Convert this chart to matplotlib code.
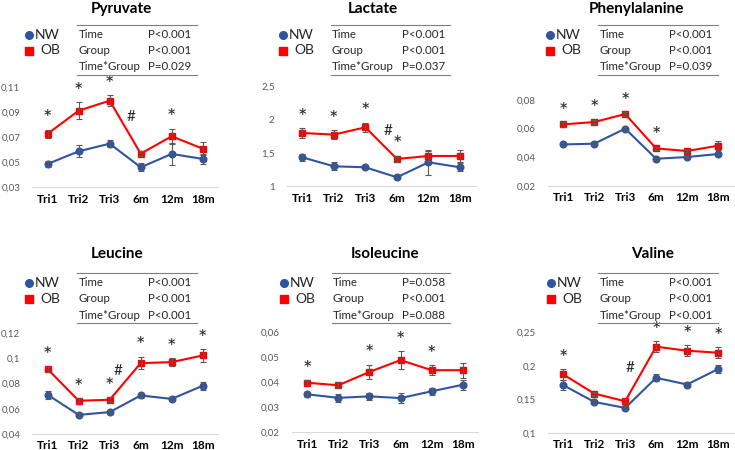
import matplotlib.pyplot as plt
import numpy as np

plt.rcParams['font.family'] = ['Lato', 'DejaVu Sans']

times = ['Tri1', 'Tri2', 'Tri3', '6m', '12m', '18m']
stat_terms = ['Time', 'Group', 'Time*Group']

# Pyruvate
pyr_nw = [0.0487, 0.0588, 0.0649, 0.0460, 0.0567, 0.0527]
pyr_nw_err = [0.0027, 0.0048, 0.0027, 0.0032, 0.0085, 0.0040]
pyr_ob = [0.0729, 0.0913, 0.0993, 0.0569, 0.0708, 0.0609]
pyr_ob_err = [0.0032, 0.0067, 0.0045, 0.0020, 0.0060, 0.0053]
pyr_p = ['P<0.001', 'P<0.001', 'P=0.029']
pyr_ticks = [0.03, 0.05, 0.07, 0.09, 0.11]
pyr_ticklabels = ['0,03', '0,05', '0,07', '0,09', '0,11']
pyr_stars = [0, 1, 2, 4]
pyr_hash = (2.7, 0.0863)

# Lactate
lac_nw = [1.435, 1.30, 1.285, 1.135, 1.36, 1.285]
lac_nw_err = [0.05, 0.06, 0.03, 0.03, 0.19, 0.06]
lac_ob = [1.80, 1.775, 1.885, 1.41, 1.455, 1.455]
lac_ob_err = [0.07, 0.07, 0.07, 0.05, 0.08, 0.09]
lac_p = ['P<0.001', 'P<0.001', 'P=0.037']
lac_ticks = [1, 1.5, 2, 2.5]
lac_ticklabels = ['1', '1,5', '2', '2,5']
lac_stars = [0, 1, 2, 3]
lac_hash = (2.72, 1.835)

# Phenylalanine
phe_nw = [0.0488, 0.0493, 0.0598, 0.0388, 0.0400, 0.0421]
phe_nw_err = [0.0010, 0.0012, 0.0015, 0.0008, 0.0008, 0.0010]
phe_ob = [0.0628, 0.0644, 0.0700, 0.0460, 0.0442, 0.0479]
phe_ob_err = [0.0015, 0.0015, 0.0012, 0.0012, 0.0010, 0.0030]
phe_p = ['P<0.001', 'P<0.001', 'P=0.039']
phe_ticks = [0.02, 0.04, 0.06, 0.08]
phe_ticklabels = ['0,02', '0,04', '0,06', '0,08']
phe_stars = [0, 1, 2, 3]
phe_hash = None

# Leucine
leu_nw = [0.0711, 0.0552, 0.0574, 0.0706, 0.0679, 0.0783]
leu_nw_err = [0.0030, 0.0015, 0.0015, 0.0020, 0.0015, 0.0030]
leu_ob = [0.0915, 0.0664, 0.0672, 0.0963, 0.0971, 0.1024]
leu_ob_err = [0.0020, 0.0020, 0.0020, 0.0050, 0.0030, 0.0050]
leu_p = ['P<0.001', 'P<0.001', 'P<0.001']
leu_ticks = [0.04, 0.06, 0.08, 0.10, 0.12]
leu_ticklabels = ['0,04', '0,06', '0,08', '0,1', '0,12']
leu_stars = [0, 1, 2, 3, 4, 5]
leu_hash = (2.28, 0.0902)

# Isoleucine
ile_nw = [0.0351, 0.0337, 0.0343, 0.0336, 0.0363, 0.0389]
ile_nw_err = [0.0010, 0.0015, 0.0015, 0.0020, 0.0015, 0.0020]
ile_ob = [0.0397, 0.0387, 0.0440, 0.0487, 0.0447, 0.0447]
ile_ob_err = [0.0010, 0.0012, 0.0028, 0.0035, 0.0020, 0.0030]
ile_p = ['P=0.058', 'P<0.001', 'P=0.088']
ile_ticks = [0.02, 0.03, 0.04, 0.05, 0.06]
ile_ticklabels = ['0,02', '0,03', '0,04', '0,05', '0,06']
ile_stars = [0, 2, 3, 4]
ile_hash = None

# Valine
val_nw = [0.171, 0.146, 0.137, 0.182, 0.172, 0.195]
val_nw_err = [0.007, 0.003, 0.003, 0.005, 0.004, 0.006]
val_ob = [0.187, 0.1585, 0.147, 0.2285, 0.2225, 0.2195]
val_ob_err = [0.008, 0.003, 0.003, 0.008, 0.008, 0.008]
val_p = ['P<0.001', 'P<0.001', 'P<0.001']
val_ticks = [0.10, 0.15, 0.20, 0.25]
val_ticklabels = ['0,1', '0,15', '0,2', '0,25']
val_stars = [0, 3, 4, 5]
val_hash = (2.15, 0.197)

panels = [
    ('Pyruvate', pyr_nw, pyr_nw_err, pyr_ob, pyr_ob_err, pyr_p, pyr_ticks, pyr_ticklabels, pyr_stars, pyr_hash),
    ('Lactate', lac_nw, lac_nw_err, lac_ob, lac_ob_err, lac_p, lac_ticks, lac_ticklabels, lac_stars, lac_hash),
    ('Phenylalanine', phe_nw, phe_nw_err, phe_ob, phe_ob_err, phe_p, phe_ticks, phe_ticklabels, phe_stars, phe_hash),
    ('Leucine', leu_nw, leu_nw_err, leu_ob, leu_ob_err, leu_p, leu_ticks, leu_ticklabels, leu_stars, leu_hash),
    ('Isoleucine', ile_nw, ile_nw_err, ile_ob, ile_ob_err, ile_p, ile_ticks, ile_ticklabels, ile_stars, ile_hash),
    ('Valine', val_nw, val_nw_err, val_ob, val_ob_err, val_p, val_ticks, val_ticklabels, val_stars, val_hash),
]

# layout in pixels: axes (left, right, top, bottom), title (x, y), table top y,
# table (left, right), p-value column x, legend marker x
W, H = 735, 450
layout = [
    dict(ax=(32.2, 218.2, 87.3, 187.3), title=(121.7, 9.3), top=25, table=(77.3, 196.7), col2=147.7, leg=29.3),
    dict(ax=(286.5, 475.8, 86.3, 186.3), title=(373, 9.3), top=25, table=(331, 450), col2=401.7, leg=283.3),
    dict(ax=(547.8, 733.5, 99.7, 185.7), title=(636.7, 9.3), top=25, table=(598.3, 717.7), col2=669.3, leg=550),
    dict(ax=(32.2, 218.2, 333.3, 434), title=(116.7, 253.5), top=273.3, table=(77.3, 196.7), col2=147.7, leg=29.3),
    dict(ax=(291.8, 478.2, 331.7, 432.3), title=(385, 253.5), top=273.3, table=(331.7, 450), col2=401.7, leg=284.3),
    dict(ax=(547.8, 733.5, 332.3, 432.7), title=(653, 253.5), top=273.3, table=(598.3, 717.7), col2=669.3, leg=551),
]

blue = '#2F55A0'
red = '#FF0000'
err_color = '#595959'
text_color = '#262626'

fig = plt.figure(figsize=(W / 100, H / 100), dpi=100)

x = np.arange(len(times))
for (name, nw, nw_err, ob, ob_err, pvals, ticks, ticklabels, stars, hsh), lay in zip(panels, layout):
    l, r, t, b = lay['ax']
    ax = fig.add_axes([l / W, 1 - b / H, (r - l) / W, (b - t) / H])
    ax.plot(x, nw, color=blue, lw=1.5, marker='o', ms=4.8, zorder=2)
    ax.plot(x, ob, color=red, lw=1.5, marker='s', ms=4.8, zorder=3)
    ax.errorbar(x, nw, yerr=nw_err, fmt='none', ecolor=err_color, elinewidth=0.8, capsize=2, capthick=0.8, zorder=4)
    ax.errorbar(x, ob, yerr=ob_err, fmt='none', ecolor=err_color, elinewidth=0.8, capsize=2, capthick=0.8, zorder=5)

    # significance marks sit just above the OB error bar
    ob_top = np.array(ob) + np.array(ob_err)
    for i in stars:
        ax.annotate('*', (x[i], ob_top[i]), xytext=(0, 7.5), textcoords='offset points',
                    ha='center', va='center', fontsize=16, color=text_color)
    if hsh is not None:
        ax.text(hsh[0], hsh[1], '#', ha='center', va='center', fontsize=11, color=text_color)

    ax.set_xlim(-0.5, len(times) - 0.5)
    ax.set_ylim(ticks[0], ticks[-1])
    ax.set_yticks(ticks)
    ax.set_yticklabels(ticklabels)
    ax.set_xticks(x)
    ax.set_xticklabels(times, fontweight='bold')
    ax.tick_params(axis='y', length=0, pad=8.5, labelsize=7, labelcolor='#595959')
    ax.tick_params(axis='x', length=0, pad=4.5, labelsize=8.5, labelcolor='black')
    for side in ['left', 'right', 'top']:
        ax.spines[side].set_visible(False)
    ax.spines['bottom'].set_color('#D9D9D9')
    ax.spines['bottom'].set_linewidth(0.8)
    ax.patch.set_visible(False)

# overlay in pixel coordinates for titles, legends and p-value tables
ov = fig.add_axes([0, 0, 1, 1])
ov.set_xlim(0, W)
ov.set_ylim(H, 0)
ov.axis('off')

for (name, nw, nw_err, ob, ob_err, pvals, *_), lay in zip(panels, layout):
    tx, ty = lay['title']
    ov.text(tx, ty, name, ha='center', va='center', fontsize=11, fontweight='bold')
    top = lay['top']
    tl, tr = lay['table']
    ov.plot([tl, tr], [top, top], color='#7F7F7F', lw=0.8)
    ov.plot([tl, tr], [top + 50, top + 50], color='#7F7F7F', lw=0.8)
    for k, (term, p) in enumerate(zip(stat_terms, pvals)):
        yy = top + 9 + k * 16.5
        ov.text(tl + 1, yy, term, ha='left', va='center', fontsize=8.3, color=text_color)
        ov.text(lay['col2'], yy, p, ha='left', va='center', fontsize=8.3, color=text_color)
    lx = lay['leg']
    ov.plot([lx], [top + 10], marker='o', ms=5.5, color=blue, ls='none')
    ov.plot([lx], [top + 25.5], marker='s', ms=5.5, color=red, ls='none')
    ov.text(lx + 5.5, top + 10, 'NW', ha='left', va='center', fontsize=10, color=text_color)
    ov.text(lx + 11, top + 25.5, 'OB', ha='left', va='center', fontsize=10, color=text_color)

fig.savefig('out.png', dpi=100)
